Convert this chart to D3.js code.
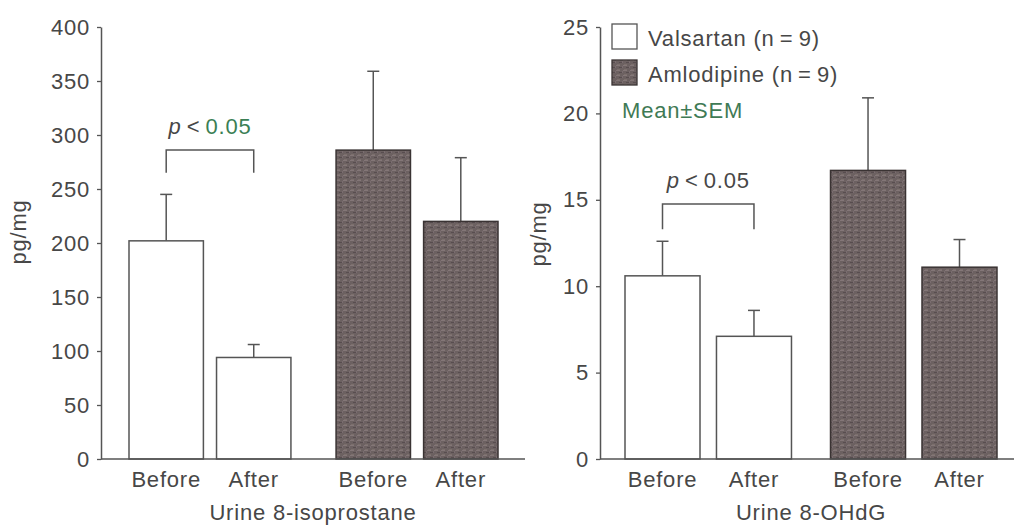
<!DOCTYPE html>
<html><head><meta charset="utf-8">
<script src="https://cdn.jsdelivr.net/npm/d3@7"></script>
<style>
html,body{margin:0;padding:0;background:#fff;}
svg{display:block;font-family:"Liberation Sans",Arial,Helvetica,sans-serif;letter-spacing:0.8px;}
</style></head>
<body>
<svg id="chart" width="1014" height="527"></svg>
<script>
// ---------- data ----------
const groups = ["Valsartan", "Amlodipine"];
const periods = ["Before", "After"];
const isoMean = [202, 94, 286, 220];   // Valsartan Before, After, Amlodipine Before, After
const isoSem  = [43, 12, 73, 59];
const ohdgMean = [10.6, 7.1, 16.7, 11.1];
const ohdgSem  = [2.0, 1.5, 4.2, 1.6];
const isoTicks = [0, 50, 100, 150, 200, 250, 300, 350, 400];
const ohdgTicks = [0, 5, 10, 15, 20, 25];
const legendLabels = ["Valsartan (n\u2009=\u20099)", "Amlodipine (n\u2009=\u20099)"];

const textCol = "#474747", lineCol = "#555";
const FS = 22;
const svg = d3.select("#chart");

// texture pattern for Amlodipine bars
const defs = svg.append("defs");
const pat = defs.append("pattern").attr("id","tex").attr("patternUnits","userSpaceOnUse")
  .attr("width",7).attr("height",5);
pat.append("rect").attr("width",7).attr("height",5).attr("fill","#6c6161");
pat.append("rect").attr("x",0).attr("y",0).attr("width",4).attr("height",1).attr("fill","#837677");
pat.append("rect").attr("x",3).attr("y",2).attr("width",3).attr("height",1).attr("fill","#584d4f");
pat.append("rect").attr("x",6).attr("y",1).attr("width",1).attr("height",2).attr("fill","#7a6d70");
pat.append("rect").attr("x",1).attr("y",4).attr("width",3).attr("height",1).attr("fill","#7b6f6c");

function panel(cfg) {
  const g = svg.append("g");
  const y = d3.scaleLinear().domain([0, d3.max(cfg.ticks)]).range([cfg.y0, cfg.y1]);
  const xo = d3.scaleBand().domain(groups).range([cfg.xb0, cfg.xb1]).paddingInner(cfg.gPad).paddingOuter(0);
  const xi = d3.scaleBand().domain(periods).range([0, xo.bandwidth()]).paddingInner(cfg.iPad).paddingOuter(0);
  const rows = [];
  groups.forEach((gr, gi) => periods.forEach((p, pi) => {
    const k = gi * 2 + pi;
    rows.push({group: gr, period: p, mean: cfg.mean[k], sem: cfg.sem[k]});
  }));
  const xb = d => xo(d.group) + xi(d.period);
  const bw = xi.bandwidth();

  // y axis
  const ax = g.append("g").attr("transform", `translate(${cfg.axX},0)`)
    .call(d3.axisLeft(y).tickValues(cfg.ticks).tickSize(4).tickPadding(7).tickSizeOuter(0));
  ax.select(".domain").attr("stroke", lineCol).attr("stroke-width", 1.5);
  ax.selectAll(".tick line").attr("stroke", lineCol).attr("stroke-width", 1.3);
  ax.selectAll(".tick text").attr("fill", textCol).attr("font-size", FS)
    .attr("font-family", '"Liberation Sans",Arial,sans-serif');

  // error bars
  rows.forEach(d => {
    const cx = xb(d) + bw / 2;
    g.append("line").attr("x1", cx).attr("x2", cx).attr("y1", y(d.mean)).attr("y2", y(d.mean + d.sem))
      .attr("stroke", lineCol).attr("stroke-width", 1.5);
    g.append("line").attr("x1", cx - 6).attr("x2", cx + 6).attr("y1", y(d.mean + d.sem)).attr("y2", y(d.mean + d.sem))
      .attr("stroke", lineCol).attr("stroke-width", 1.5);
  });
  // bars
  g.selectAll("rect.bar").data(rows).join("rect").attr("class","bar")
    .attr("x", xb).attr("width", bw)
    .attr("y", d => y(d.mean)).attr("height", d => y(0) - y(d.mean))
    .attr("fill", d => d.group === "Valsartan" ? "#fff" : "url(#tex)")
    .attr("stroke", d => d.group === "Valsartan" ? lineCol : "#3a3333")
    .attr("stroke-width", 1.5);

  // x baseline
  g.append("line").attr("x1", cfg.axX).attr("x2", cfg.xEnd).attr("y1", y(0)).attr("y2", y(0))
    .attr("stroke", lineCol).attr("stroke-width", 1.5);

  // x labels
  g.selectAll("text.xl").data(rows).join("text").attr("class","xl")
    .attr("x", d => xb(d) + bw / 2).attr("y", y(0) + 28)
    .attr("text-anchor", "middle").attr("font-size", FS).attr("fill", textCol).text(d => d.period);
  g.append("text").attr("x", cfg.titleX).attr("y", 520).attr("text-anchor","middle")
    .attr("font-size", FS).attr("fill", textCol).text(cfg.title);

  // y label
  g.append("text").attr("transform", `translate(${cfg.yLabX},${cfg.yLabY}) rotate(-90)`)
    .attr("text-anchor","middle").attr("font-size", FS).attr("fill", textCol).text("pg/mg");

  // significance bracket
  const b0 = rows[0], b1 = rows[1];
  const lx = xb(b0) + bw / 2, rx = xb(b1) + bw / 2;
  const by = y(cfg.bracket), legY = y(cfg.bracketLeg);
  g.append("path").attr("d", `M${lx},${legY}V${by}H${rx}V${legY}`)
    .attr("fill","none").attr("stroke", lineCol).attr("stroke-width", 1.5);
  const pt = g.append("text").attr("x", (lx + rx) / 2).attr("y", by - 16).attr("text-anchor","middle")
    .attr("font-size", FS).attr("fill", textCol);
  pt.append("tspan").attr("font-style","italic").text("p");
  pt.append("tspan").text("\u2009<\u2009");
  pt.append("tspan").attr("fill", cfg.pGreen ? "#3b7f55" : textCol).text("0.05");
  return {g, y};
}

panel({ticks: isoTicks, mean: isoMean, sem: isoSem, y0: 459, y1: 27, axX: 101, xEnd: 525,
  xb0: 129, xb1: 498, gPad: 0.218, iPad: 0.15, title: "Urine 8-isoprostane", titleX: 313,
  yLabX: 26, yLabY: 232, bracket: 286, bracketLeg: 265, pGreen: true});

panel({ticks: ohdgTicks, mean: ohdgMean, sem: ohdgSem, y0: 459, y1: 27, axX: 600, xEnd: 1014,
  xb0: 625, xb1: 997, gPad: 0.19, iPad: 0.18, title: "Urine 8-OHdG", titleX: 811,
  yLabX: 546, yLabY: 234, bracket: 14.75, bracketLeg: 13.3, pGreen: false});

// legend
const lg = svg.append("g");
legendLabels.forEach((lab, i) => {
  lg.append("rect").attr("x", 612).attr("y", 24 + i * 36).attr("width", 25).attr("height", 25)
    .attr("fill", i === 0 ? "#fff" : "url(#tex)").attr("stroke", i === 0 ? lineCol : "#3a3333").attr("stroke-width", 1.3);
  lg.append("text").attr("x", 648).attr("y", 46 + i * 36).attr("font-size", FS).attr("fill", textCol).text(lab);
});
lg.append("text").attr("x", 622).attr("y", 118).attr("font-size", FS).attr("fill", "#3f7a55").text("Mean\u00b1SEM");
</script>
</body></html>
